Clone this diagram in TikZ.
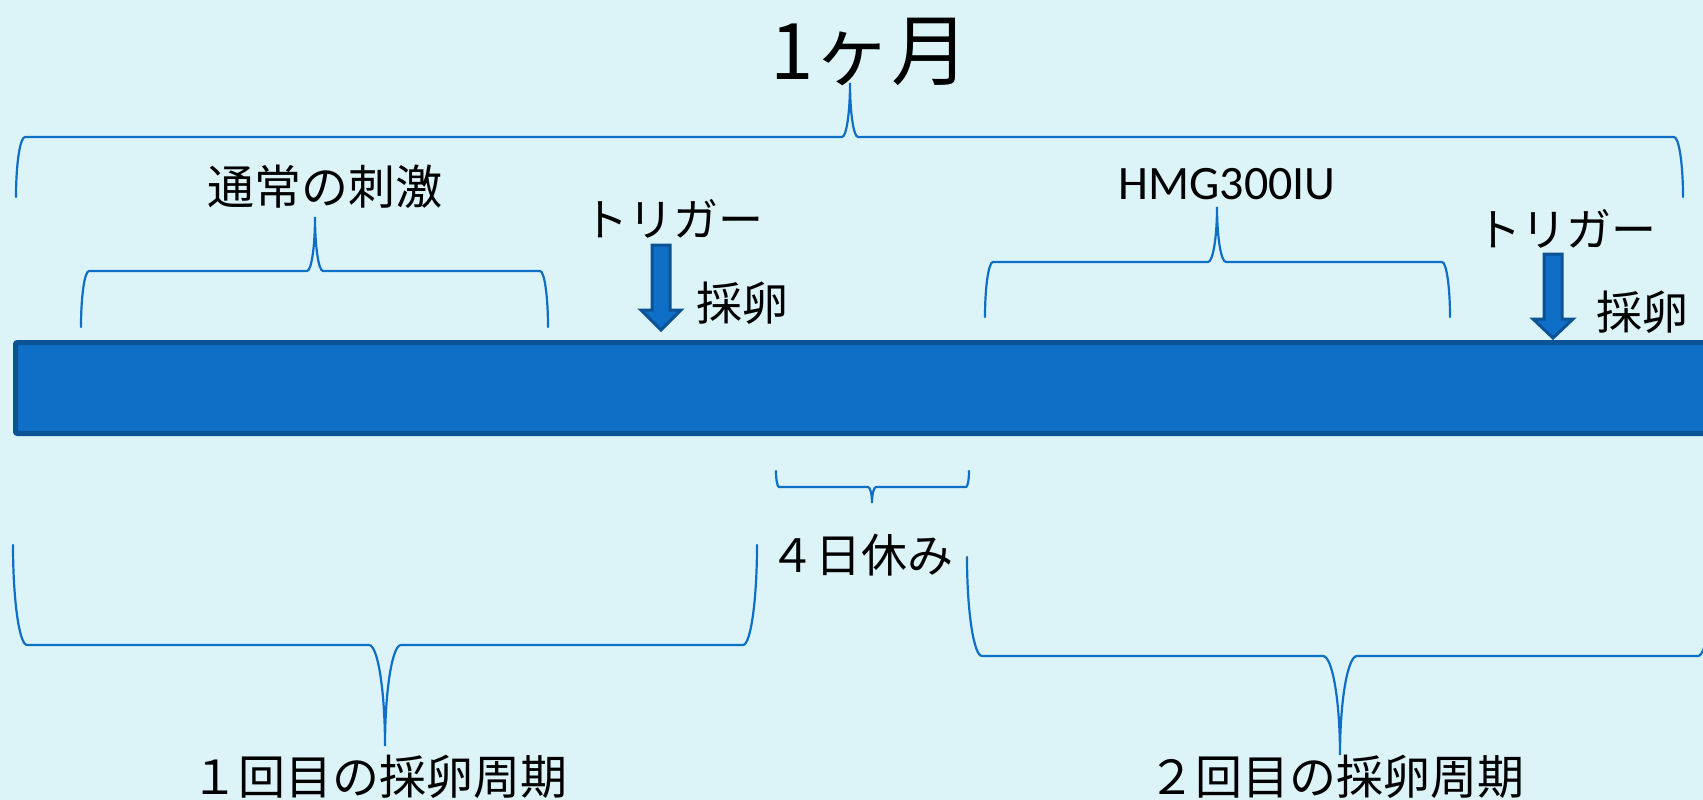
\documentclass[tikz,border=0pt]{standalone}
\usepackage{fontspec}
\setmainfont{Noto Sans CJK JP}
\newfontfamily\latfont{Carlito}
\usetikzlibrary{calc}
\definecolor{bg}{RGB}{220,244,248}
\definecolor{acc}{HTML}{0F6FC6}
\definecolor{accdark}{HTML}{0B5394}
% brace: #1 x0, #2 x1, #3 xm, #4 y ends, #5 y line, #6 y tip, #7 corner r, #8 tip r
\newcommand\brc[8]{%
\draw[bracestyle] (#1,#4) .. controls ($(#1,#4)!0.55!(#1,#5)$) and ($(#1+#7,#5)!0.55!(#1,#5)$) .. (#1+#7,#5)
 -- (#3-#8,#5) .. controls ($(#3-#8,#5)!0.55!(#3,#5)$) and ($(#3,#6)!0.55!(#3,#5)$) .. (#3,#6)
 .. controls ($(#3,#6)!0.55!(#3,#5)$) and ($(#3+#8,#5)!0.55!(#3,#5)$) .. (#3+#8,#5)
 -- (#2-#7,#5) .. controls ($(#2-#7,#5)!0.55!(#2,#5)$) and ($(#2,#4)!0.55!(#2,#5)$) .. (#2,#4);}
\begin{document}
\begin{tikzpicture}[x=1pt,y=-1pt,
  bracestyle/.style={draw=acc, line width=2.2pt, line cap=round},
  lbl/.style={inner sep=0pt, anchor=base, text=black},
  barstyle/.style={fill=acc, draw=accdark, line width=5pt, rounded corners=2pt},
  blockarrow/.style={fill=acc, draw=accdark, line width=3pt, line join=miter}]
\useasboundingbox (0,0) rectangle (1703,800);
\clip (0,0) rectangle (1703,800);
\fill[bg] (0,0) rectangle (1703,800);

% timeline bar
\draw[barstyle] (15.5,342.5) rectangle (1740,433.5);

% braces above
\brc{16}{1683}{850}{197}{137}{83}{9}{8}
\brc{81}{548}{315}{327}{271}{217}{8}{8}
\brc{985}{1450}{1217}{317}{262}{207}{8}{9}
% braces below
\brc{776}{969}{872}{471}{487}{503}{3}{4}
\brc{13}{757}{385}{545}{645}{746}{14}{16}
\brc{967}{1713}{1340}{557}{656}{755}{15}{17}

% block arrows
\draw[blockarrow] (652,245) -- (670,245) -- (670,310) -- (681,310) -- (661,330) -- (641,310) -- (652,310) -- cycle;
\draw[blockarrow] (1544,254) -- (1562,254) -- (1562,319) -- (1573,319) -- (1553,338) -- (1533,319) -- (1544,319) -- cycle;

% labels
\node[lbl, font=\fontsize{78}{90}\selectfont] (title) at (870,80) {1ヶ月};
\node[lbl, font=\fontsize{47}{56}\selectfont] (normal) at (325,204) {通常の刺激};
\node[lbl, font=\latfont\fontsize{48}{56}\selectfont] (hmg) at (1227,199) {HMG300IU};
\node[lbl, font=\fontsize{45}{54}\selectfont] (trig1) at (673,236) {トリガー};
\node[lbl, font=\fontsize{45}{54}\selectfont] (trig2) at (1566,246) {トリガー};
\node[lbl, font=\fontsize{46}{54}\selectfont] (egg1) at (742,320) {採卵};
\node[lbl, font=\fontsize{46}{54}\selectfont] (egg2) at (1642,329) {採卵};
\node[lbl, font=\fontsize{46}{54}\selectfont] (rest) at (861,572) {４日休み};
\node[lbl, font=\fontsize{47}{56}\selectfont] (cyc1) at (379,794) {１回目の採卵周期};
\node[lbl, font=\fontsize{47}{56}\selectfont] (cyc2) at (1336,794) {２回目の採卵周期};
\end{tikzpicture}
\end{document}
